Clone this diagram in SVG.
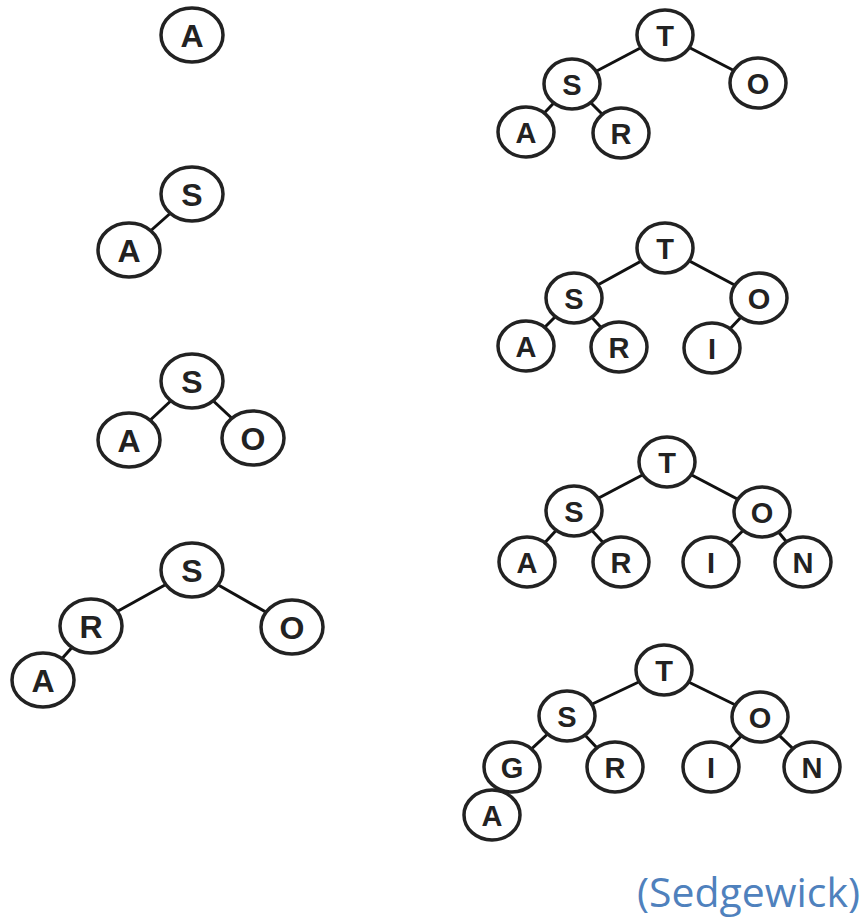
<svg xmlns="http://www.w3.org/2000/svg" width="866" height="919" viewBox="0 0 866 919">
<style>
  .edge { stroke: #111; stroke-width: 3; fill: none; }
  .big ellipse { fill: #fff; stroke: #222; stroke-width: 3.5; }
  .sm ellipse { fill: #fff; stroke: #222; stroke-width: 3.5; }
  text.l { font-family: "Liberation Sans", Arial, sans-serif; fill: #222; text-anchor: middle; dominant-baseline: central; font-weight: bold; }
  .big text.l { font-size: 32px; }
  .sm text.l { font-size: 29px; }
  .cite { font-family: "Open Sans", "Noto Sans", sans-serif; font-size: 40px; fill: #4F81BD; }
</style>
<g id="connectors">
  <line class="edge" x1="192" y1="194" x2="129" y2="250"/>
  <line class="edge" x1="192" y1="381" x2="129" y2="440"/>
  <line class="edge" x1="192" y1="381" x2="253" y2="438"/>
  <line class="edge" x1="192" y1="570" x2="91" y2="626"/>
  <line class="edge" x1="192" y1="570" x2="292" y2="627"/>
  <line class="edge" x1="91" y1="626" x2="43" y2="680"/>
  <line class="edge" x1="665" y1="35" x2="572" y2="84"/>
  <line class="edge" x1="665" y1="35" x2="758" y2="83"/>
  <line class="edge" x1="572" y1="84" x2="526" y2="132"/>
  <line class="edge" x1="572" y1="84" x2="621" y2="133"/>
  <line class="edge" x1="665" y1="248" x2="574" y2="298"/>
  <line class="edge" x1="665" y1="248" x2="759" y2="298"/>
  <line class="edge" x1="574" y1="298" x2="526" y2="346"/>
  <line class="edge" x1="574" y1="298" x2="619" y2="347"/>
  <line class="edge" x1="759" y1="298" x2="712" y2="348"/>
  <line class="edge" x1="667" y1="462" x2="574" y2="511"/>
  <line class="edge" x1="667" y1="462" x2="762" y2="512"/>
  <line class="edge" x1="574" y1="511" x2="527" y2="562"/>
  <line class="edge" x1="574" y1="511" x2="621" y2="562"/>
  <line class="edge" x1="762" y1="512" x2="711" y2="562"/>
  <line class="edge" x1="762" y1="512" x2="803" y2="562"/>
  <line class="edge" x1="664" y1="670" x2="567" y2="716"/>
  <line class="edge" x1="664" y1="670" x2="760" y2="717"/>
  <line class="edge" x1="567" y1="716" x2="512" y2="767"/>
  <line class="edge" x1="567" y1="716" x2="615" y2="767"/>
  <line class="edge" x1="760" y1="717" x2="711" y2="767"/>
  <line class="edge" x1="760" y1="717" x2="812" y2="767"/>
  <line class="edge" x1="512" y1="767" x2="492" y2="815"/>
</g>
<g class="big">
  <g id="t1-A"><ellipse cx="192" cy="35" rx="31" ry="27"/><text class="l" x="192" y="36">A</text></g>
  <g id="t2-S"><ellipse cx="192" cy="194" rx="31" ry="27"/><text class="l" x="192" y="195">S</text></g>
  <g id="t2-A"><ellipse cx="129" cy="250" rx="31" ry="27"/><text class="l" x="129" y="251">A</text></g>
  <g id="t3-S"><ellipse cx="192" cy="381" rx="31" ry="27"/><text class="l" x="192" y="382">S</text></g>
  <g id="t3-A"><ellipse cx="129" cy="440" rx="31" ry="27"/><text class="l" x="129" y="441">A</text></g>
  <g id="t3-O"><ellipse cx="253" cy="438" rx="31" ry="27"/><text class="l" x="253" y="439">O</text></g>
  <g id="t4-S"><ellipse cx="192" cy="570" rx="31" ry="27"/><text class="l" x="192" y="571">S</text></g>
  <g id="t4-R"><ellipse cx="91" cy="626" rx="31" ry="27"/><text class="l" x="91" y="627">R</text></g>
  <g id="t4-O"><ellipse cx="292" cy="627" rx="31" ry="27"/><text class="l" x="292" y="628">O</text></g>
  <g id="t4-A"><ellipse cx="43" cy="680" rx="31" ry="27"/><text class="l" x="43" y="681">A</text></g>
</g>
<g class="sm">
  <g id="t5-T"><ellipse cx="665" cy="35" rx="28" ry="25"/><text class="l" x="665" y="36">T</text></g>
  <g id="t5-S"><ellipse cx="572" cy="84" rx="28" ry="25"/><text class="l" x="572" y="85">S</text></g>
  <g id="t5-O"><ellipse cx="758" cy="83" rx="28" ry="25"/><text class="l" x="758" y="84">O</text></g>
  <g id="t5-A"><ellipse cx="526" cy="132" rx="28" ry="25"/><text class="l" x="526" y="133">A</text></g>
  <g id="t5-R"><ellipse cx="621" cy="133" rx="28" ry="25"/><text class="l" x="621" y="134">R</text></g>

  <g id="t6-T"><ellipse cx="665" cy="248" rx="28" ry="25"/><text class="l" x="665" y="249">T</text></g>
  <g id="t6-S"><ellipse cx="574" cy="298" rx="28" ry="25"/><text class="l" x="574" y="299">S</text></g>
  <g id="t6-O"><ellipse cx="759" cy="298" rx="28" ry="25"/><text class="l" x="759" y="299">O</text></g>
  <g id="t6-A"><ellipse cx="526" cy="346" rx="28" ry="25"/><text class="l" x="526" y="347">A</text></g>
  <g id="t6-R"><ellipse cx="619" cy="347" rx="28" ry="25"/><text class="l" x="619" y="348">R</text></g>
  <g id="t6-I"><ellipse cx="712" cy="348" rx="28" ry="25"/><text class="l" x="712" y="349">I</text></g>

  <g id="t7-T"><ellipse cx="667" cy="462" rx="28" ry="25"/><text class="l" x="667" y="463">T</text></g>
  <g id="t7-S"><ellipse cx="574" cy="511" rx="28" ry="25"/><text class="l" x="574" y="512">S</text></g>
  <g id="t7-O"><ellipse cx="762" cy="512" rx="28" ry="25"/><text class="l" x="762" y="513">O</text></g>
  <g id="t7-A"><ellipse cx="527" cy="562" rx="28" ry="25"/><text class="l" x="527" y="563">A</text></g>
  <g id="t7-R"><ellipse cx="621" cy="562" rx="28" ry="25"/><text class="l" x="621" y="563">R</text></g>
  <g id="t7-I"><ellipse cx="711" cy="562" rx="28" ry="25"/><text class="l" x="711" y="563">I</text></g>
  <g id="t7-N"><ellipse cx="803" cy="562" rx="28" ry="25"/><text class="l" x="803" y="563">N</text></g>

  <g id="t8-T"><ellipse cx="664" cy="670" rx="28" ry="25"/><text class="l" x="664" y="671">T</text></g>
  <g id="t8-S"><ellipse cx="567" cy="716" rx="28" ry="25"/><text class="l" x="567" y="717">S</text></g>
  <g id="t8-O"><ellipse cx="760" cy="717" rx="28" ry="25"/><text class="l" x="760" y="718">O</text></g>
  <g id="t8-G"><ellipse cx="512" cy="767" rx="28" ry="25"/><text class="l" x="512" y="768">G</text></g>
  <g id="t8-R"><ellipse cx="615" cy="767" rx="28" ry="25"/><text class="l" x="615" y="768">R</text></g>
  <g id="t8-I"><ellipse cx="711" cy="767" rx="28" ry="25"/><text class="l" x="711" y="768">I</text></g>
  <g id="t8-N"><ellipse cx="812" cy="767" rx="28" ry="25"/><text class="l" x="812" y="768">N</text></g>
  <g id="t8-A"><ellipse cx="492" cy="815" rx="28" ry="25"/><text class="l" x="492" y="816">A</text></g>
</g>
<text class="cite" x="637" y="907" textLength="223" lengthAdjust="spacingAndGlyphs">(Sedgewick)</text>
</svg>
